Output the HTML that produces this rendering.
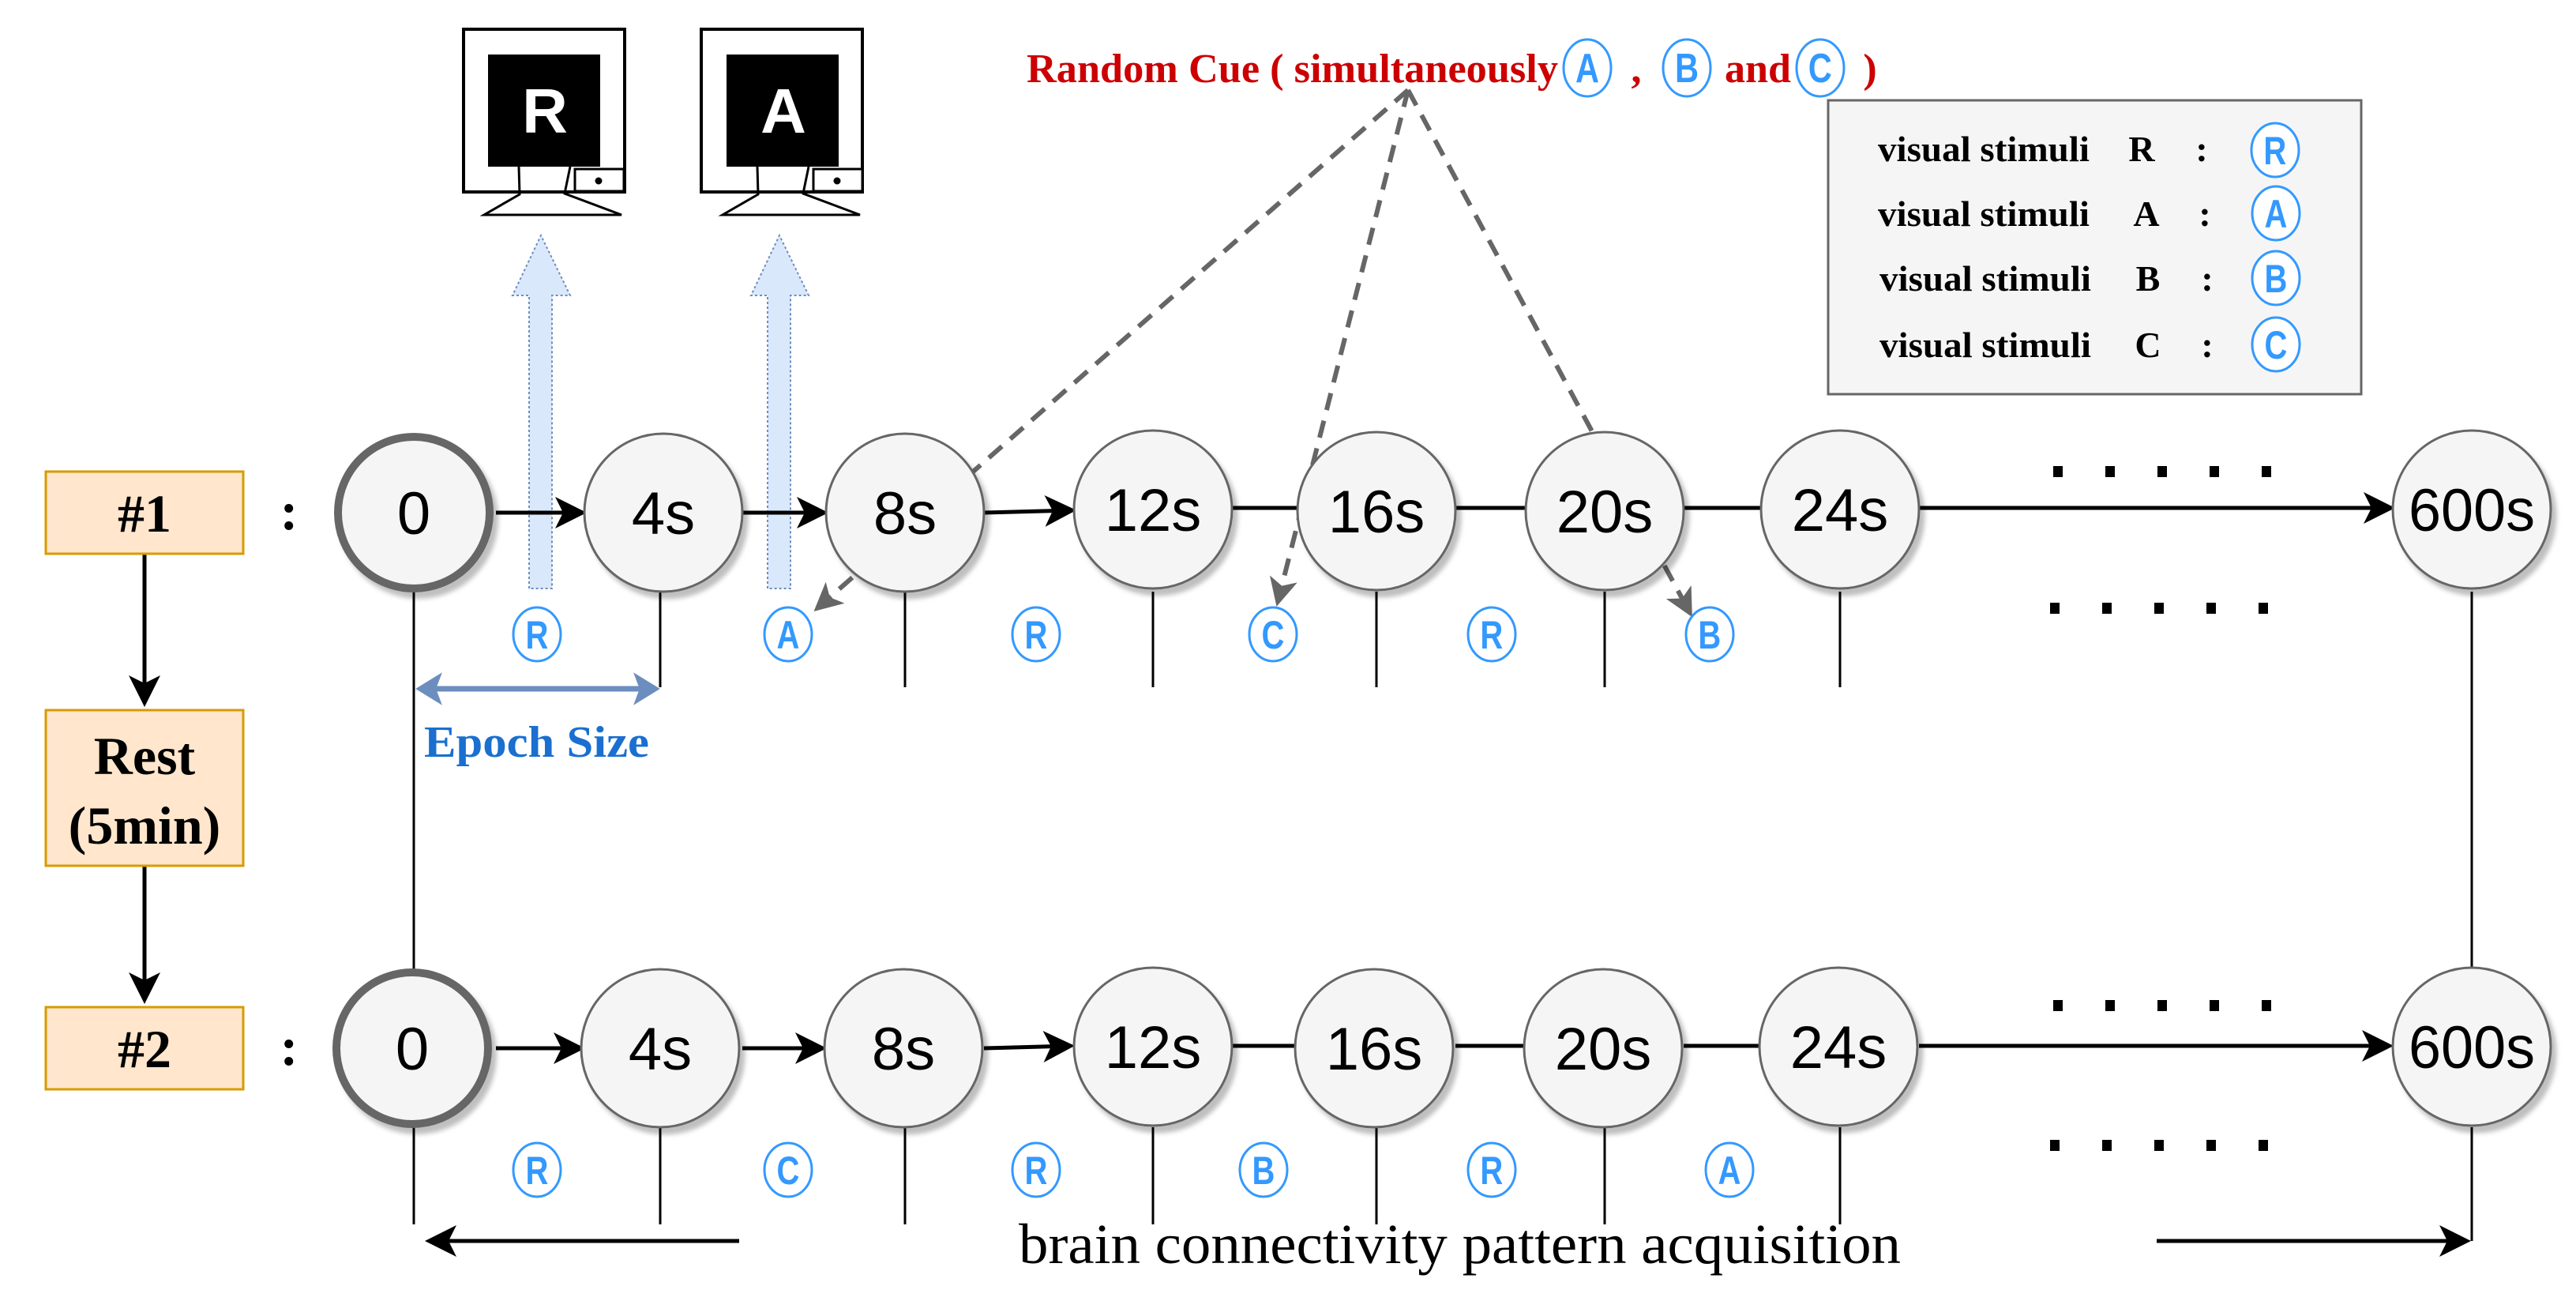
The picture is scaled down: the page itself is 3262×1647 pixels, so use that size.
<!DOCTYPE html>
<html><head><meta charset="utf-8"><style>html,body{margin:0;padding:0;background:#fff}svg{display:block}</style></head>
<body>
<svg width="3262" height="1647" viewBox="0 0 3262 1647" xmlns="http://www.w3.org/2000/svg">
<defs>
<marker id="ah" markerWidth="8" markerHeight="8" refX="7" refY="4" orient="auto" markerUnits="strokeWidth"><path d="M0,0 L8,4 L0,8 L2,4 z" fill="#000"/></marker>
<marker id="ahg" markerWidth="6" markerHeight="6" refX="5" refY="3" orient="auto" markerUnits="strokeWidth"><path d="M0,0 L6,3 L0,6 L1.5,3 z" fill="#666"/></marker>
<filter id="sh" x="-20%" y="-20%" width="150%" height="150%"><feDropShadow dx="6" dy="8" stdDeviation="3" flood-color="#000" flood-opacity="0.25"/></filter>
</defs>

<g stroke="#000" stroke-width="4" fill="#fff">
<rect x="587" y="37" width="204" height="206"/>
<rect x="888" y="37" width="204" height="206"/>
</g>
<rect x="618" y="69" width="142" height="142" fill="#000"/>
<rect x="920" y="69" width="142" height="142" fill="#000"/>
<g stroke="#000" stroke-width="3" fill="none">
<rect x="728" y="214" width="62" height="28" fill="#fff"/><circle cx="758" cy="229" r="3" fill="#000"/>
<rect x="1030" y="214" width="62" height="28" fill="#fff"/><circle cx="1060" cy="229" r="3" fill="#000"/>
<path d="M657,211 L658,246 L613,272 L787,272 L715,245 L722,211"/>
<path d="M959,211 L960,246 L915,272 L1089,272 L1017,245 L1024,211"/>
</g>
<text x="690" y="168" font-family="Liberation Sans" font-weight="bold" font-size="80" fill="#fff" text-anchor="middle">R</text>
<text x="992" y="168" font-family="Liberation Sans" font-weight="bold" font-size="80" fill="#fff" text-anchor="middle">A</text>

<g stroke="#666" stroke-width="6" stroke-dasharray="22,14" fill="none">
<line x1="1783" y1="114" x2="1035" y2="770" marker-end="url(#ahg)"/>
<line x1="1783" y1="114" x2="1618" y2="762" marker-end="url(#ahg)"/>
<line x1="1783" y1="114" x2="2140" y2="776" marker-end="url(#ahg)"/>
</g>

<g fill="#dae8fc" stroke="#6c8ebf" stroke-width="2" stroke-dasharray="3,3">
<path d="M670,745 L670,374 L649,374 L685,298 L722,374 L699,374 L699,745 z"/>
<path d="M972,745 L972,374 L951,374 L987,298 L1024,374 L1001,374 L1001,745 z"/>
</g>

<g stroke="#000" stroke-width="3">
<line x1="524" y1="749" x2="524" y2="1227"/>
<line x1="836" y1="749" x2="836" y2="870"/>
<line x1="1146" y1="749" x2="1146" y2="870"/>
<line x1="1460" y1="749" x2="1460" y2="870"/>
<line x1="1743" y1="749" x2="1743" y2="870"/>
<line x1="2032" y1="749" x2="2032" y2="870"/>
<line x1="2330" y1="749" x2="2330" y2="870"/>
<line x1="3130" y1="749" x2="3130" y2="1227"/>
<line x1="524" y1="1427" x2="524" y2="1550"/>
<line x1="836" y1="1427" x2="836" y2="1550"/>
<line x1="1146" y1="1427" x2="1146" y2="1550"/>
<line x1="1460" y1="1427" x2="1460" y2="1550"/>
<line x1="1743" y1="1427" x2="1743" y2="1550"/>
<line x1="2032" y1="1427" x2="2032" y2="1550"/>
<line x1="2330" y1="1427" x2="2330" y2="1550"/>
<line x1="3130" y1="1427" x2="3130" y2="1571"/>
</g>

<g stroke="#000" stroke-width="5" fill="none">
<line x1="628" y1="649" x2="738" y2="649" marker-end="url(#ah)"/>
<line x1="940" y1="649" x2="1044" y2="649" marker-end="url(#ah)"/>
<line x1="1246" y1="649" x2="1358" y2="646" marker-end="url(#ah)"/>
<line x1="1560" y1="643" x2="1645" y2="643"/>
<line x1="1843" y1="643" x2="1932" y2="643"/>
<line x1="2132" y1="643" x2="2230" y2="643"/>
<line x1="2430" y1="643" x2="3028" y2="643" marker-end="url(#ah)"/>
<line x1="628" y1="1327" x2="736" y2="1327" marker-end="url(#ah)"/>
<line x1="940" y1="1327" x2="1042" y2="1327" marker-end="url(#ah)"/>
<line x1="1246" y1="1327" x2="1356" y2="1324" marker-end="url(#ah)"/>
<line x1="1560" y1="1324" x2="1645" y2="1324"/>
<line x1="1843" y1="1324" x2="1932" y2="1324"/>
<line x1="2132" y1="1324" x2="2230" y2="1324"/>
<line x1="2430" y1="1324" x2="3026" y2="1324" marker-end="url(#ah)"/>
<line x1="183" y1="701" x2="183" y2="890" marker-end="url(#ah)"/>
<line x1="183" y1="1096" x2="183" y2="1266" marker-end="url(#ah)"/>
<line x1="936" y1="1571" x2="543" y2="1571" marker-end="url(#ah)"/>
<line x1="2731" y1="1571" x2="3124" y2="1571" marker-end="url(#ah)"/>
</g>

<g font-family="Liberation Sans" font-size="76" text-anchor="middle" fill="#000">
<g filter="url(#sh)" fill="#f5f5f5" stroke="#666" stroke-width="3">
<circle cx="524" cy="649" r="96" stroke-width="10"/>
<circle cx="840" cy="649" r="100"/>
<circle cx="1146" cy="649" r="100"/>
<circle cx="1460" cy="645" r="100"/>
<circle cx="1743" cy="647" r="100"/>
<circle cx="2032" cy="647" r="100"/>
<circle cx="2330" cy="645" r="100"/>
<circle cx="3130" cy="645" r="100"/>
<circle cx="522" cy="1327" r="96" stroke-width="10"/>
<circle cx="836" cy="1327" r="100"/>
<circle cx="1144" cy="1327" r="100"/>
<circle cx="1460" cy="1325" r="100"/>
<circle cx="1740" cy="1327" r="100"/>
<circle cx="2030" cy="1327" r="100"/>
<circle cx="2328" cy="1325" r="100"/>
<circle cx="3130" cy="1325" r="100"/>
</g>
<text x="524" y="676">0</text><text x="840" y="676">4s</text><text x="1146" y="676">8s</text><text x="1460" y="672">12s</text>
<text x="1743" y="674">16s</text><text x="2032" y="674">20s</text><text x="2330" y="672">24s</text><text x="3130" y="672" textLength="160" lengthAdjust="spacingAndGlyphs">600s</text>
<text x="522" y="1354">0</text><text x="836" y="1354">4s</text><text x="1144" y="1354">8s</text><text x="1460" y="1352">12s</text>
<text x="1740" y="1354">16s</text><text x="2030" y="1354">20s</text><text x="2328" y="1352">24s</text><text x="3130" y="1352" textLength="160" lengthAdjust="spacingAndGlyphs">600s</text>
</g>

<g fill="#ffe6cc" stroke="#d79b00" stroke-width="3">
<rect x="58" y="597" width="250" height="104"/>
<rect x="58" y="899" width="250" height="197"/>
<rect x="58" y="1275" width="250" height="104"/>
</g>
<g font-family="Liberation Serif" font-weight="bold" font-size="68" text-anchor="middle" fill="#000">
<text x="183" y="673">#1</text>
<text x="183" y="980">Rest</text>
<text x="183" y="1068">(5min)</text>
<text x="183" y="1351">#2</text>
<text x="366" y="670">:</text>
<text x="366" y="1348">:</text>
</g>

<g stroke="#000" stroke-width="9" stroke-dasharray="12,54">
<line x1="2600" y1="597" x2="2880" y2="597" stroke-width="14"/>
<line x1="2596" y1="770" x2="2876" y2="770" stroke-width="14"/>
<line x1="2600" y1="1273" x2="2880" y2="1273" stroke-width="14"/>
<line x1="2596" y1="1450" x2="2876" y2="1450" stroke-width="14"/>
</g>

<g font-family="Liberation Sans" font-weight="bold" font-size="50" text-anchor="middle" fill="#3399ff">
<g fill="#fff" stroke="#3399ff" stroke-width="3">
<ellipse cx="680" cy="803" rx="30" ry="34"/><ellipse cx="998" cy="803" rx="30" ry="34"/><ellipse cx="1312" cy="803" rx="30" ry="34"/>
<ellipse cx="1612" cy="803" rx="30" ry="34"/><ellipse cx="1889" cy="803" rx="30" ry="34"/><ellipse cx="2165" cy="803" rx="30" ry="34"/>
<ellipse cx="680" cy="1481" rx="30" ry="34"/><ellipse cx="998" cy="1481" rx="30" ry="34"/><ellipse cx="1312" cy="1481" rx="30" ry="34"/>
<ellipse cx="1600" cy="1481" rx="30" ry="34"/><ellipse cx="1889" cy="1481" rx="30" ry="34"/><ellipse cx="2190" cy="1481" rx="30" ry="34"/>
</g>
<g transform="scale(0.8,1)">
<text x="850" y="821">R</text><text x="1247.5" y="821">A</text><text x="1640" y="821">R</text><text x="2015" y="821">C</text><text x="2361" y="821">R</text><text x="2706" y="821">B</text>
<text x="850" y="1499">R</text><text x="1247.5" y="1499">C</text><text x="1640" y="1499">R</text><text x="2000" y="1499">B</text><text x="2361" y="1499">R</text><text x="2737.5" y="1499">A</text>
</g>
</g>

<line x1="548" y1="872" x2="814" y2="872" stroke="#6c8ebf" stroke-width="7"/>
<path d="M530,872 L556,856 L550,872 L556,888 z" fill="#6c8ebf" stroke="#6c8ebf" stroke-width="4"/>
<path d="M832,872 L806,856 L812,872 L806,888 z" fill="#6c8ebf" stroke="#6c8ebf" stroke-width="4"/>
<text x="537" y="958" font-family="Liberation Serif" font-weight="bold" font-size="56" fill="#1a6fd0" textLength="285" lengthAdjust="spacingAndGlyphs">Epoch Size</text>

<text x="1290" y="1599" font-family="Liberation Serif" font-size="72" fill="#000" textLength="1117" lengthAdjust="spacingAndGlyphs">brain connectivity pattern acquisition</text>

<text x="1300" y="104" font-family="Liberation Serif" font-weight="bold" font-size="52" fill="#cc0000" textLength="673" lengthAdjust="spacingAndGlyphs">Random Cue ( simultaneously</text>
<text x="2072" y="104" font-family="Liberation Serif" font-weight="bold" font-size="52" fill="#cc0000" text-anchor="middle">,</text>
<text x="2184" y="104" font-family="Liberation Serif" font-weight="bold" font-size="52" fill="#cc0000" textLength="84" lengthAdjust="spacingAndGlyphs">and</text>
<text x="2368" y="104" font-family="Liberation Serif" font-weight="bold" font-size="52" fill="#cc0000" text-anchor="middle">)</text>
<g fill="#fff" stroke="#3399ff" stroke-width="3">
<ellipse cx="2010" cy="86" rx="30" ry="36"/><ellipse cx="2136" cy="86" rx="30" ry="36"/><ellipse cx="2305" cy="86" rx="30" ry="36"/>
</g>
<g font-family="Liberation Sans" font-weight="bold" font-size="52" text-anchor="middle" fill="#3399ff" transform="scale(0.8,1)">
<text x="2512.5" y="104">A</text><text x="2670" y="104">B</text><text x="2881" y="104">C</text>
</g>

<rect x="2315" y="127" width="675" height="372" fill="#f5f5f5" stroke="#666" stroke-width="3"/>
<g font-family="Liberation Serif" font-weight="bold" font-size="46" fill="#000">
<text x="2378" y="204" textLength="268" lengthAdjust="spacingAndGlyphs">visual stimuli</text>
<text x="2378" y="286" textLength="268" lengthAdjust="spacingAndGlyphs">visual stimuli</text>
<text x="2380" y="368" textLength="268" lengthAdjust="spacingAndGlyphs">visual stimuli</text>
<text x="2380" y="452" textLength="268" lengthAdjust="spacingAndGlyphs">visual stimuli</text>
<g text-anchor="middle">
<text x="2712" y="204">R</text><text x="2718" y="286">A</text><text x="2720" y="368">B</text><text x="2720" y="452">C</text>
<text x="2788" y="204">:</text><text x="2792" y="286">:</text><text x="2795" y="368">:</text><text x="2795" y="452">:</text>
</g>
</g>
<g fill="#fff" stroke="#3399ff" stroke-width="3">
<ellipse cx="2881" cy="190" rx="30" ry="34"/><ellipse cx="2882" cy="270" rx="30" ry="34"/><ellipse cx="2882" cy="352" rx="30" ry="34"/><ellipse cx="2882" cy="436" rx="30" ry="34"/>
</g>
<g font-family="Liberation Sans" font-weight="bold" font-size="50" text-anchor="middle" fill="#3399ff" transform="scale(0.8,1)">
<text x="3601" y="208">R</text><text x="3602.5" y="288">A</text><text x="3602.5" y="370">B</text><text x="3602.5" y="454">C</text>
</g>
</svg>
</body></html>
